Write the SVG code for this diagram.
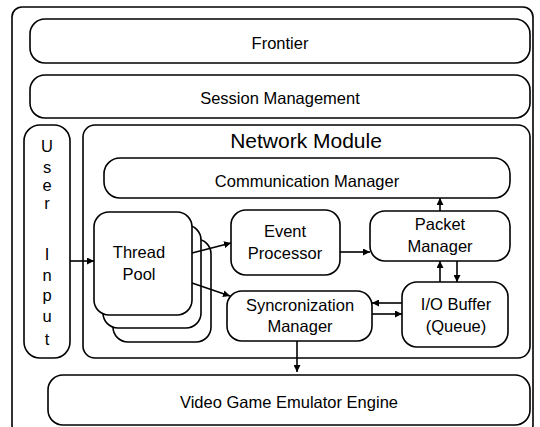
<svg xmlns="http://www.w3.org/2000/svg" width="540" height="427" viewBox="0 0 540 427">
  <defs>
    <style>
      .box { fill: #fff; stroke: #000; stroke-width: 1.6; }
      .edge { fill: none; stroke: #000; stroke-width: 1.6; }
      text { font-family: "Liberation Sans", Arial, sans-serif; font-size: 16.5px; fill: #000; text-anchor: middle; }
      .title { font-size: 21px; }
    </style>
    <marker id="arr" viewBox="0 0 10 10" refX="10" refY="5" markerWidth="7" markerHeight="7" markerUnits="userSpaceOnUse" orient="auto">
      <path d="M0,0 L10,5 L0,10 z" fill="#000"/>
    </marker>
  </defs>

  <rect width="540" height="427" fill="#fff"/>

  <!-- outer frame -->
  <rect id="frame" class="box" x="12" y="7" width="521" height="428" rx="10"/>

  <g id="frontier">
    <rect class="box" x="30" y="19" width="500" height="44" rx="15"/>
    <text x="280" y="49">Frontier</text>
  </g>

  <g id="session-management">
    <rect class="box" x="30" y="75" width="500" height="43" rx="15"/>
    <text x="280" y="104">Session Management</text>
  </g>

  <g id="user-input">
    <rect class="box" x="24" y="125" width="46" height="233" rx="16"/>
    <text x="47" y="152">U</text>
    <text x="47" y="173">s</text>
    <text x="47" y="191">e</text>
    <text x="47" y="209">r</text>
    <text x="47" y="260">I</text>
    <text x="47" y="281">n</text>
    <text x="47" y="301">p</text>
    <text x="47" y="322">u</text>
    <text x="47" y="345">t</text>
  </g>

  <g id="network-module">
    <rect class="box" x="83" y="125" width="447" height="233" rx="12"/>
    <text class="title" x="306" y="148">Network Module</text>
  </g>

  <g id="communication-manager">
    <rect class="box" x="104" y="158" width="406" height="40" rx="16"/>
    <text x="307" y="187">Communication Manager</text>
  </g>

  <g id="thread-pool">
    <rect class="box" x="113" y="239" width="98" height="103" rx="15"/>
    <rect class="box" x="103" y="225" width="98" height="103" rx="15"/>
    <rect class="box" x="94" y="212" width="98" height="103" rx="15"/>
    <text x="139" y="258">Thread</text>
    <text x="139" y="280">Pool</text>
  </g>

  <g id="event-processor">
    <rect class="box" x="231" y="210" width="109" height="65" rx="15"/>
    <text x="285" y="237">Event</text>
    <text x="285" y="259">Processor</text>
  </g>

  <g id="packet-manager">
    <rect class="box" x="370" y="211" width="140" height="50" rx="15"/>
    <text x="440" y="230">Packet</text>
    <text x="440" y="252">Manager</text>
  </g>

  <g id="synchronization-manager">
    <rect class="box" x="227" y="291" width="145" height="50" rx="15"/>
    <text x="300" y="311">Syncronization</text>
    <text x="300" y="332">Manager</text>
  </g>

  <g id="io-buffer">
    <rect class="box" x="402" y="282" width="106" height="65" rx="15"/>
    <text x="456" y="310">I/O Buffer</text>
    <text x="456" y="332">(Queue)</text>
  </g>

  <g id="video-game-emulator-engine">
    <rect class="box" x="48" y="375" width="482" height="50" rx="15"/>
    <text x="289" y="408">Video Game Emulator Engine</text>
  </g>

  <g id="connectors">
    <line class="edge" x1="70" y1="261" x2="94" y2="261" marker-end="url(#arr)"/>
    <line class="edge" x1="192" y1="253" x2="231" y2="243" marker-end="url(#arr)"/>
    <line class="edge" x1="192" y1="283" x2="230" y2="296" marker-end="url(#arr)"/>
    <line class="edge" x1="340" y1="252" x2="370" y2="252" marker-end="url(#arr)"/>
    <line class="edge" x1="440" y1="211" x2="440" y2="198" marker-end="url(#arr)"/>
    <line class="edge" x1="440" y1="282" x2="440" y2="261" marker-end="url(#arr)"/>
    <line class="edge" x1="457" y1="261" x2="457" y2="282" marker-end="url(#arr)"/>
    <line class="edge" x1="402" y1="303" x2="372" y2="303" marker-end="url(#arr)"/>
    <line class="edge" x1="372" y1="314" x2="402" y2="314" marker-end="url(#arr)"/>
    <line class="edge" x1="297" y1="341" x2="297" y2="372" marker-end="url(#arr)"/>
  </g>
</svg>
